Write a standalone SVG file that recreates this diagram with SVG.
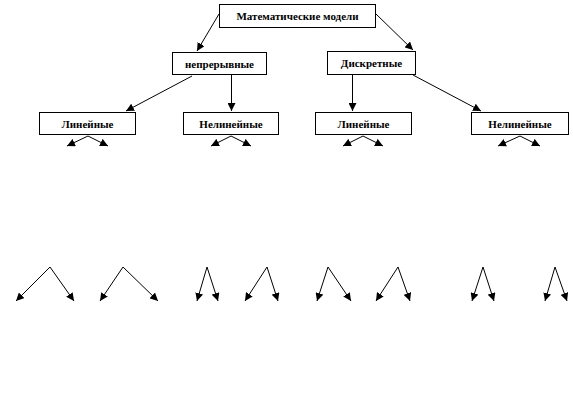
<svg xmlns="http://www.w3.org/2000/svg" width="573" height="402" viewBox="0 0 573 402">
<style>
.box{fill:#fff;stroke:#000;stroke-width:1}
.lbl{font-family:"Liberation Serif","Times New Roman",serif;font-weight:bold;font-size:11px;text-anchor:middle;dominant-baseline:central;fill:#000}
.c{stroke:#000;stroke-width:1;fill:none;marker-end:url(#ah)}
</style>
<defs>
<marker id="ah" markerUnits="userSpaceOnUse" markerWidth="9" markerHeight="8" refX="8" refY="4" orient="auto">
<path d="M0,0 L8,4 L0,8 Z" fill="#000"/>
</marker>
</defs>
<g id="n-root"><rect class="box" x="219.5" y="4.5" width="156" height="23"/><text class="lbl" x="297.5" y="16">Математические модели</text></g>
<g id="n-cont"><rect class="box" x="172.5" y="52.5" width="94" height="22"/><text class="lbl" x="219.5" y="63.5">непрерывные</text></g>
<g id="n-disc"><rect class="box" x="327.5" y="51.5" width="88" height="23"/><text class="lbl" x="371.5" y="63">Дискретные</text></g>
<g id="n-lin1"><rect class="box" x="39.5" y="112.5" width="96" height="22"/><text class="lbl" x="87.5" y="123.5">Линейные</text></g>
<g id="n-nl1"><rect class="box" x="183.5" y="112.5" width="95" height="22"/><text class="lbl" x="231" y="123.5">Нелинейные</text></g>
<g id="n-lin2"><rect class="box" x="315.5" y="112.5" width="96" height="22"/><text class="lbl" x="363.5" y="123.5">Линейные</text></g>
<g id="n-nl2"><rect class="box" x="471.5" y="112.5" width="97" height="22"/><text class="lbl" x="520" y="123.5">Нелинейные</text></g>
<g id="connectors">
<line class="c" x1="219" y1="14" x2="197" y2="51"/>
<line class="c" x1="376" y1="14" x2="413" y2="50"/>
<line class="c" x1="192" y1="76" x2="126" y2="111"/>
<line class="c" x1="231.5" y1="75" x2="231.5" y2="111"/>
<line class="c" x1="352.5" y1="75" x2="352.5" y2="111"/>
<line class="c" x1="413" y1="75" x2="481" y2="111"/>
<line class="c" x1="88" y1="136" x2="67" y2="146"/>
<line class="c" x1="88" y1="136" x2="108" y2="146"/>
<line class="c" x1="231" y1="136" x2="211" y2="146"/>
<line class="c" x1="231" y1="136" x2="251" y2="146"/>
<line class="c" x1="363" y1="136" x2="343" y2="146"/>
<line class="c" x1="363" y1="136" x2="383" y2="146"/>
<line class="c" x1="520" y1="136" x2="498" y2="146"/>
<line class="c" x1="520" y1="136" x2="540" y2="146"/>
<line class="c" x1="50" y1="267" x2="16" y2="301"/>
<line class="c" x1="50" y1="267" x2="74" y2="301"/>
<line class="c" x1="123" y1="267" x2="100" y2="301"/>
<line class="c" x1="123" y1="267" x2="158" y2="301"/>
<line class="c" x1="207" y1="267" x2="197" y2="301"/>
<line class="c" x1="207" y1="267" x2="218" y2="301"/>
<line class="c" x1="267" y1="267" x2="245" y2="301"/>
<line class="c" x1="267" y1="267" x2="278" y2="301"/>
<line class="c" x1="328" y1="267" x2="317" y2="301"/>
<line class="c" x1="328" y1="267" x2="351" y2="301"/>
<line class="c" x1="398" y1="267" x2="376" y2="301"/>
<line class="c" x1="398" y1="267" x2="410" y2="301"/>
<line class="c" x1="483" y1="267" x2="472" y2="301"/>
<line class="c" x1="483" y1="267" x2="494" y2="301"/>
<line class="c" x1="555" y1="267" x2="545" y2="301"/>
<line class="c" x1="555" y1="267" x2="567" y2="301"/>
</g>
</svg>
